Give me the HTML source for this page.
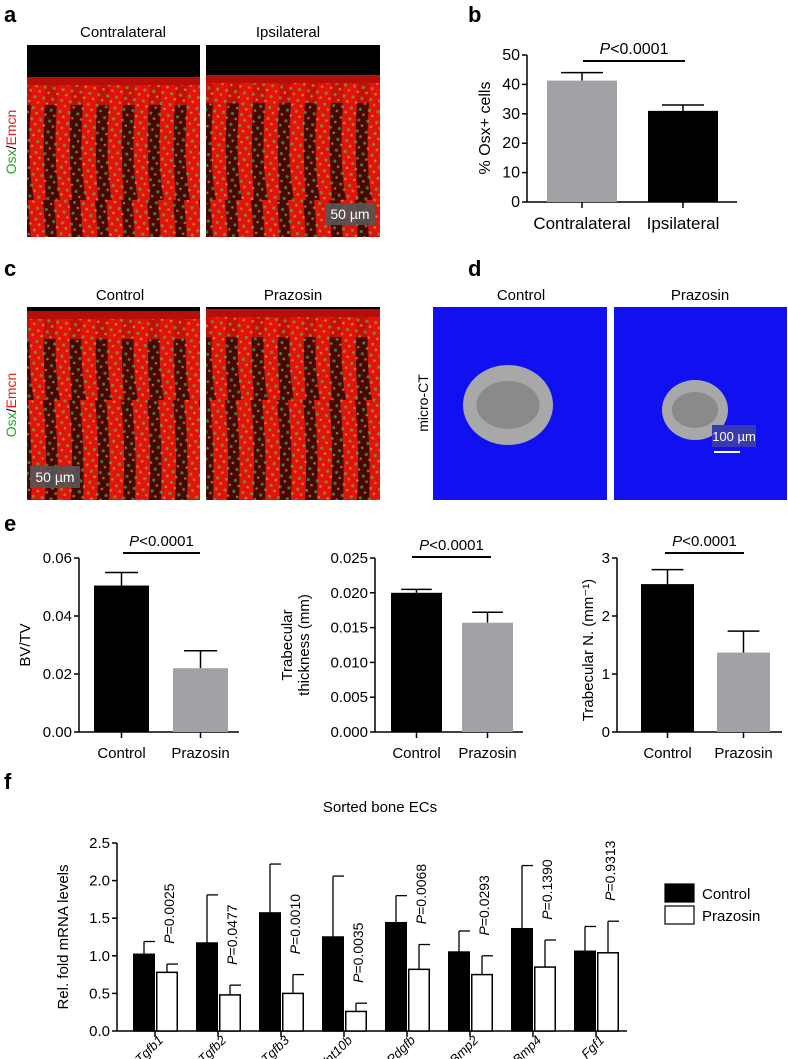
<!DOCTYPE html>
<html><head><meta charset="utf-8"><style>
html,body{margin:0;padding:0;background:#fff;}
svg{display:block;font-family:"Liberation Sans",Arial,sans-serif;}
</style></head><body>
<svg id="fig" width="788" height="1059" viewBox="0 0 788 1059" xmlns="http://www.w3.org/2000/svg">
<defs>
<pattern id="grn" width="9" height="11" patternUnits="userSpaceOnUse" patternTransform="rotate(8)">
<circle cx="3" cy="3" r="1.6" fill="#3de03d"/><circle cx="7" cy="8" r="1.3" fill="#c8e020"/>
</pattern>
<pattern id="redcol" width="26" height="200" patternUnits="userSpaceOnUse">
<rect x="0" y="0" width="26" height="200" fill="#000"/>
<path d="M2 0 Q8 60 4 120 Q2 170 8 200 L20 200 Q16 150 19 100 Q22 50 17 0Z" fill="#e8140e"/>
</pattern>
</defs>
<g id="labels" font-weight="bold" font-size="22" fill="#000">
<text x="4" y="22">a</text>
<text x="468" y="22">b</text>
<text x="4" y="276">c</text>
<text x="468" y="276">d</text>
<text x="4" y="531">e</text>
<text x="4" y="789">f</text>
</g>
<g font-size="15" fill="#000" text-anchor="middle">
<text x="123" y="37">Contralateral</text>
<text x="288" y="37">Ipsilateral</text>
<text x="120" y="300">Control</text>
<text x="293" y="300">Prazosin</text>
<text x="521" y="300">Control</text>
<text x="700" y="300">Prazosin</text>
</g>
<text transform="translate(16,142) rotate(-90)" font-size="14" text-anchor="middle"><tspan fill="#22aa22">Osx</tspan><tspan fill="#000">/</tspan><tspan fill="#e02020">Emcn</tspan></text>
<text transform="translate(16,405) rotate(-90)" font-size="14" text-anchor="middle"><tspan fill="#22aa22">Osx</tspan><tspan fill="#000">/</tspan><tspan fill="#e02020">Emcn</tspan></text>
<text transform="translate(428,403) rotate(-90)" font-size="14" text-anchor="middle">micro-CT</text>
<g id="imgs"></g>
<g id="charts"></g>
</svg>
<script>
// ---------- data ----------
const bCategories = ["Contralateral","Ipsilateral"];
const bValues = [41.3, 31.0];
const bErrors = [44.0, 33.0];
const bTicks = [0,10,20,30,40,50];

const eCategories = ["Control","Prazosin"];
const e1Values = [0.0505, 0.022];
const e1Errors = [0.055, 0.028];
const e1Ticks = ["0.00","0.02","0.04","0.06"];
const e2Values = [0.0200, 0.0157];
const e2Errors = [0.0205, 0.0172];
const e2Ticks = ["0.000","0.005","0.010","0.015","0.020","0.025"];
const e3Values = [2.55, 1.37];
const e3Errors = [2.80, 1.74];
const e3Ticks = ["0","1","2","3"];

const fGenes = ["Tgfb1","Tgfb2","Tgfb3","Wnt10b","Pdgfb","Bmp2","Bmp4","Fgf1"];
const fControl = [1.02,1.17,1.57,1.25,1.44,1.05,1.36,1.06];
const fControlErr = [1.19,1.81,2.22,2.06,1.80,1.33,2.20,1.39];
const fPrazosin = [0.78,0.48,0.50,0.26,0.82,0.75,0.85,1.04];
const fPrazosinErr = [0.89,0.61,0.75,0.37,1.15,1.00,1.21,1.46];
const fPLabels = ["0.0025","0.0477","0.0010","0.0035","0.0068","0.0293","0.1390","0.9313"];
const fTicks = ["0.0","0.5","1.0","1.5","2.0","2.5"];

const NS="http://www.w3.org/2000/svg";
const charts=document.getElementById('charts');
function mk(tag,attrs,parent,text){const e=document.createElementNS(NS,tag);for(const k in attrs)e.setAttribute(k,attrs[k]);if(text!==undefined)e.textContent=text;(parent||charts).appendChild(e);return e;}

// ---------- images ----------
const imgs=document.getElementById('imgs');
function micro(x,y,w,h,name,topBlack,bar){
  const g=mk('g',{},imgs);
  
  
  mk('rect',{x:x,y:y,width:w,height:h,fill:'#000'},g);
  mk('rect',{x:x,y:y+topBlack,width:w,height:h-topBlack,fill:'url(#redcol)'},g);
  mk('rect',{x:x,y:y+topBlack,width:w,height:h-topBlack,fill:'#d01010',opacity:0.35},g);
  mk('rect',{x:x,y:y+topBlack-8,width:w,height:28,fill:'#e5120c',opacity:0.8},g);
  mk('rect',{x:x,y:y+topBlack,width:w,height:h-topBlack,fill:'url(#grn)',opacity:0.55},g);
  if(bar){mk('rect',{x:bar[0],y:bar[1],width:bar[2],height:22,fill:'#555',opacity:0.9},g);
    mk('text',{x:bar[0]+bar[2]/2,y:bar[1]+16,'font-size':14,fill:'#fff','text-anchor':'middle'},g,'50 µm');}
}
micro(27,45,173,192,'contralateral-image',40,null);
micro(206,45,174,192,'ipsilateral-image',38,[325,203,50]);
micro(27,307,173,193,'control-image-c',12,[30,466,50]);
micro(206,307,174,193,'prazosin-image-c',10,null);
function blue(x,y,w,h,name,cx,cy,rx,ry,sb){
  const g=mk('g',{},imgs);
  
  
  mk('rect',{x:x,y:y,width:w,height:h,fill:'#1010f0'},g);
  mk('ellipse',{cx:cx,cy:cy,rx:rx,ry:ry,fill:'#a8a8a8'},g);
  mk('ellipse',{cx:cx,cy:cy,rx:rx*0.7,ry:ry*0.6,fill:'#777',opacity:0.6},g);
  if(sb){mk('rect',{x:712,y:425,width:44,height:22,fill:'#3a3ab0'},g);
    mk('text',{x:734,y:441,'font-size':13,fill:'#fff','text-anchor':'middle'},g,'100 µm');
    mk('line',{x1:714,y1:452,x2:740,y2:452,stroke:'#fff','stroke-width':2},g);}
}
blue(433,307,174,193,'micro-ct-control',508,405,45,40,false);
blue(614,307,173,193,'micro-ct-prazosin',695,410,33,30,true);

// ---------- generic bar chart ----------
function barChart(o){
  const g=mk('g',{});
  
  
  const y=v=>o.y0-(v-o.min)/(o.max-o.min)*(o.y0-o.y1);
  mk('line',{x1:o.ax,y1:o.y1,x2:o.ax,y2:o.y0,stroke:'#000','stroke-width':1.5},g);
  mk('line',{x1:o.ax,y1:o.y0,x2:o.axEnd,y2:o.y0,stroke:'#000','stroke-width':1.5},g);
  o.ticks.forEach(t=>{const v=parseFloat(t),yy=y(v);
    mk('line',{x1:o.ax-5,y1:yy,x2:o.ax,y2:yy,stroke:'#000','stroke-width':1.5},g);
    const tl=mk('text',{x:o.ax-7,y:yy+5,'font-size':o.fs,'text-anchor':'end'},g,String(t));
    
    
  });
  o.values.forEach((v,i)=>{
    const bx=o.bx[i],cx=bx+o.bw/2;
    mk('line',{x1:cx,y1:y(o.errors[i]),x2:cx,y2:y(v),stroke:'#000','stroke-width':1.5},g);
    mk('line',{x1:cx-o.bw*0.3,y1:y(o.errors[i]),x2:cx+o.bw*0.3,y2:y(o.errors[i]),stroke:'#000','stroke-width':1.5},g);
    const r=mk('rect',{x:bx,y:y(v),width:o.bw,height:o.y0-y(v),fill:o.colors[i]},g);
    
    
    mk('line',{x1:cx,y1:o.y0,x2:cx,y2:o.y0+6,stroke:'#000','stroke-width':1.5},g);
    const cl=mk('text',{x:cx,y:o.y0+o.catDy,'font-size':o.cfs,'text-anchor':'middle'},g,o.cats[i]);
    
    
  });
  mk('line',{x1:o.p[0],y1:o.p[2],x2:o.p[1],y2:o.p[2],stroke:'#000','stroke-width':2},g);
  const pt=mk('text',{x:(o.p[0]+o.p[1])/2,y:o.p[2]-7,'font-size':o.fs,'text-anchor':'middle'},g);
  
  
  mk('tspan',{'font-style':'italic'},pt,'P');mk('tspan',{},pt,'<0.0001');
  o.titles.forEach((t,k)=>{
    const tt=mk('text',{transform:`translate(${o.tx[k]},${o.tcy}) rotate(-90)`,'font-size':o.fs,'text-anchor':'middle'},g,t);
    
    
  });
  return g;
}
barChart({name:'chart-b',ax:527,axEnd:737,y0:202,y1:55,min:0,max:50,ticks:bTicks,values:bValues,errors:bErrors,
  bx:[547,648],bw:70,colors:['#a2a2a6','#000'],cats:bCategories,catDy:27,cfs:17,fs:16,p:[583,685,61],
  titles:['% Osx+ cells'],tx:[490],tcy:128});
barChart({name:'chart-bv-tv',ax:79,axEnd:239,y0:732,y1:558,min:0,max:0.06,ticks:e1Ticks,values:e1Values,errors:e1Errors,
  bx:[94,173],bw:55,colors:['#000','#a2a2a6'],cats:eCategories,catDy:26,cfs:15,fs:15,p:[123,200,553],
  titles:['BV/TV'],tx:[30],tcy:645});
barChart({name:'chart-trabecular-thickness',ax:375,axEnd:523,y0:732,y1:558,min:0,max:0.025,ticks:e2Ticks,values:e2Values,errors:e2Errors,
  bx:[391,462],bw:51,colors:['#000','#a2a2a6'],cats:eCategories,catDy:26,cfs:15,fs:15,p:[412,491,557],
  titles:['Trabecular','thickness (mm)'],tx:[292,309],tcy:645});
barChart({name:'chart-trabecular-number',ax:617,axEnd:782,y0:732,y1:558,min:0,max:3,ticks:e3Ticks,values:e3Values,errors:e3Errors,
  bx:[641,717],bw:53,colors:['#000','#a2a2a6'],cats:eCategories,catDy:26,cfs:15,fs:15,p:[665,744,553],
  titles:['Trabecular N. (mm⁻¹)'],tx:[593],tcy:650});

// ---------- panel f ----------
(function(){
  const g=mk('g',{});
  
  
  const ax=117,axEnd=627,y0=1031,y1=843,max=2.5;
  const y=v=>y0-v/max*(y0-y1);
  const xt=i=>155+i*63;
  const bw=22;
  mk('text',{x:380,y:812,'font-size':15,'text-anchor':'middle'},g,'Sorted bone ECs');
  mk('line',{x1:ax,y1:y1,x2:ax,y2:y0,stroke:'#000','stroke-width':1.5},g);
  mk('line',{x1:ax,y1:y0,x2:axEnd,y2:y0,stroke:'#000','stroke-width':1.5},g);
  fTicks.forEach(t=>{const yy=y(parseFloat(t));
    mk('line',{x1:ax-5,y1:yy,x2:ax,y2:yy,stroke:'#000','stroke-width':1.5},g);
    const tl=mk('text',{x:ax-7,y:yy+5,'font-size':15,'text-anchor':'end'},g,t);
    
    
  });
  const yt=mk('text',{transform:`translate(68,937) rotate(-90)`,'font-size':15,'text-anchor':'middle'},g,'Rel. fold mRNA levels');
  
  
  fGenes.forEach((gn,i)=>{
    const t=xt(i);
    [[fControl,fControlErr,t-bw,'#000','control'],[fPrazosin,fPrazosinErr,t+1,'#fff','prazosin']].forEach(s=>{
      const v=s[0][i],e=s[1][i],cx=s[2]+bw/2;
      mk('line',{x1:cx,y1:y(e),x2:cx,y2:y(v),stroke:'#000','stroke-width':1.3},g);
      mk('line',{x1:cx,y1:y(e),x2:cx+bw/2,y2:y(e),stroke:'#000','stroke-width':1.3},g);
      const r=mk('rect',{x:s[2]+0.75,y:y(v),width:bw-1.5,height:y0-y(v),fill:s[3],stroke:'#000','stroke-width':1.5},g);
      
      
    });
    mk('line',{x1:t,y1:y0,x2:t,y2:y0+6,stroke:'#000','stroke-width':1.5},g);
    const cl=mk('text',{transform:`translate(${t+9},${y0+10}) rotate(-45)`,'font-size':13,'text-anchor':'end','font-style':'italic'},g,gn);
    
    
    const top=Math.max(fPrazosinErr[i],fPrazosin[i])+0.27;
    const pl=mk('text',{transform:`translate(${t+19},${y(top)}) rotate(-90)`,'font-size':14},g);
    
    
    mk('tspan',{'font-style':'italic'},pl,'P');mk('tspan',{},pl,'='+fPLabels[i]);
  });
  const l1=mk('rect',{x:665,y:884,width:29,height:18,fill:'#000',stroke:'#000','stroke-width':1.2},g);
  
  
  const l2=mk('rect',{x:665,y:906,width:29,height:18,fill:'#fff',stroke:'#000','stroke-width':1.2},g);
  
  
  const t1=mk('text',{x:702,y:899,'font-size':15},g,'Control');
  
  
  const t2=mk('text',{x:702,y:921,'font-size':15},g,'Prazosin');
  
  
})();
</script>
</body></html>
